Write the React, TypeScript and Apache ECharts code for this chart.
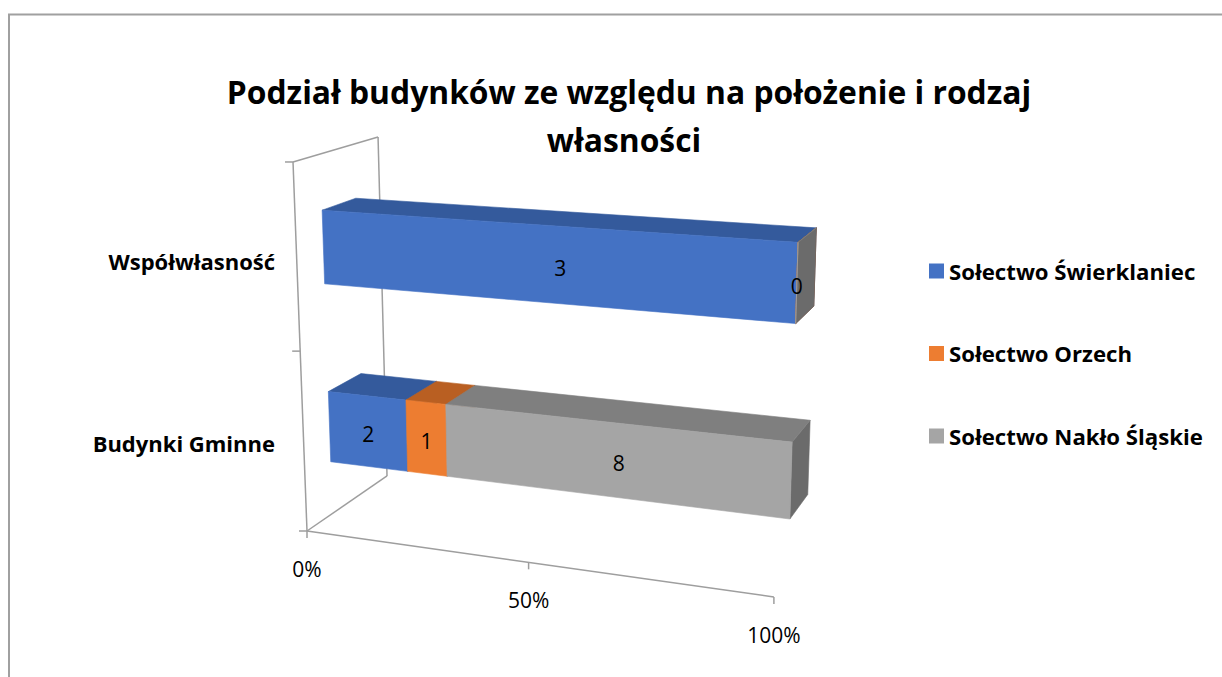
import React, { useEffect, useRef } from "react";
import * as echarts from "echarts";

// ---- data ----
const titleLines = ["Podział budynków ze względu na położenie i rodzaj", "własności"];
const categories = ["Budynki Gminne", "Współwłasność"];
const seriesNames = ["Sołectwo Świerklaniec", "Sołectwo Orzech", "Sołectwo Nakło Śląskie"];
const swierklaniec = [2, 3];
const orzech = [1, 0];
const naklo = [8, 0];
const tickValues = [0, 50, 100];
const tickLabels = ["0%", "50%", "100%"];

// ---- styles ----
const FONT = "Open Sans";
const frontColors = ["#4472C4", "#ED7D31", "#A5A5A5"];
const topColors = ["#345A9C", "#B95F22", "#7F7F7F"];
const sideColors = ["#2D5090", "#A55520", "#6B6B6B"];
const FRAME = "#9E9E9E";

// perspective camera (normalized 3D space -> screen)
const CAM = {
  ox: 307,
  oy: 531,
  ex: [421.8, 59.6],
  ey: [-13.3, -350.9],
  ez: [87.4, -60.1],
  w: [-0.0966, -0.0491, 0.0921],
};
function proj(X: number, Y: number, Z: number): number[] {
  const d = 1 + CAM.w[0] * X + CAM.w[1] * Y + CAM.w[2] * Z;
  return [
    CAM.ox + (CAM.ex[0] * X + CAM.ey[0] * Y + CAM.ez[0] * Z) / d,
    CAM.oy + (CAM.ex[1] * X + CAM.ey[1] * Y + CAM.ez[1] * Z) / d,
  ];
}
const Z_FRONT = 0.3;
const Z_BACK = 0.7;
const BAR_FRACTION = 0.4;

const seriesValues = [swierklaniec, orzech, naklo];

function buildStack() {
  const totals = categories.map((_, ci) => seriesValues.reduce((s, arr) => s + arr[ci], 0));
  const rows: number[][][] = seriesValues.map(() => []);
  categories.forEach((_, ci) => {
    let cum = 0;
    seriesValues.forEach((arr, si) => {
      const v = arr[ci];
      const start = (cum / totals[ci]) * 100;
      cum += v;
      const end = (cum / totals[ci]) * 100;
      rows[si].push([start, end, ci, v, 0]);
    });
    // hide labels of segments coinciding with a later one
    seriesValues.forEach((_, si) => {
      for (let sj = si + 1; sj < seriesValues.length; sj++) {
        const a = rows[si][ci];
        const b = rows[sj][ci];
        if (Math.abs(a[0] - b[0]) < 1e-9 && Math.abs(a[1] - b[1]) < 1e-9) a[4] = 1;
      }
    });
  });
  return rows;
}

export default function App() {
  const ref = useRef<HTMLDivElement>(null);
  useEffect(() => {
    if (!ref.current) return;
    const chart = echarts.init(ref.current, undefined, { renderer: "svg" });
    const rows = buildStack();

    const frameSeries: any = {
      type: "custom",
      name: "frame",
      silent: true,
      data: [[0, 0]],
      encode: { x: 0, y: 1 },
      renderItem: (params: any, api: any) => {
        const cs = params.coordSys;
        const nx = (v: number) => (api.coord([v, 0])[0] - cs.x) / cs.width;
        const c0 = api.coord([0, 0]);
        const band = api.size([0, 1])[1];
        const ny = (py: number) => 1 - (py - cs.y) / cs.height;
        const yBottom = ny(c0[1] + band / 2);
        const yTop = ny(c0[1] - band / 2 - band * (categories.length - 1));
        const children: any[] = [];
        const line = (p: number[], q: number[]) =>
          children.push({
            type: "line",
            shape: { x1: p[0], y1: p[1], x2: q[0], y2: q[1] },
            style: { stroke: FRAME, lineWidth: 1.5 },
          });
        const A = proj(0, yTop, 0);
        const B = proj(0, yBottom, 0);
        const C = proj(0, yTop, 1);
        const D = proj(0, yBottom, 1);
        const E = proj(nx(100), yBottom, 0);
        line(A, B);
        line(A, C);
        line(C, D);
        line(D, B);
        line(B, E);
        // category ticks
        for (let k = 0; k <= categories.length; k++) {
          const y = ny(c0[1] + band / 2 - band * k);
          const p = proj(0, y, 0);
          line([p[0] - 8, p[1]], p);
        }
        // value ticks + labels
        tickValues.forEach((v, i) => {
          const p = proj(nx(v), yBottom, 0);
          line(p, [p[0], p[1] + 7]);
          children.push({
            type: "text",
            style: {
              text: tickLabels[i],
              x: p[0],
              y: p[1] + 38,
              align: "center",
              verticalAlign: "middle",
              fontFamily: FONT,
              fontSize: 21,
              fill: "#000",
            },
          });
        });
        return { type: "group", children };
      },
      z: 1,
    };

    const barSeries: any[] = seriesNames.map((name, si) => ({
      type: "custom",
      name,
      itemStyle: { color: frontColors[si] },
      data: rows[si],
      encode: { x: [0, 1], y: 2 },
      z: 2,
      renderItem: (params: any, api: any) => {
        const cs = params.coordSys;
        const s = api.value(0);
        const e = api.value(1);
        const ci = api.value(2);
        const v = api.value(3);
        const hide = api.value(4);
        const a = api.coord([s, ci]);
        const b = api.coord([e, ci]);
        const X0 = (a[0] - cs.x) / cs.width;
        const X1 = (b[0] - cs.x) / cs.width;
        const Yc = 1 - (a[1] - cs.y) / cs.height;
        const half = (BAR_FRACTION / 2) * (api.size([0, 1])[1] / cs.height);
        const Yb = Yc - half;
        const Yt = Yc + half;
        const f1 = proj(X0, Yb, Z_FRONT);
        const f2 = proj(X1, Yb, Z_FRONT);
        const f3 = proj(X1, Yt, Z_FRONT);
        const f4 = proj(X0, Yt, Z_FRONT);
        const t3 = proj(X1, Yt, Z_BACK);
        const t4 = proj(X0, Yt, Z_BACK);
        const r2 = proj(X1, Yb, Z_BACK);
        const poly = (pts: number[][], fill: string) => ({
          type: "polygon",
          shape: { points: pts },
          style: { fill, stroke: fill, lineWidth: 0.6 },
        });
        const children: any[] = [
          poly([f2, r2, t3, f3], sideColors[si]),
          poly([f4, f3, t3, t4], topColors[si]),
          poly([f1, f2, f3, f4], frontColors[si]),
        ];
        if (!hide) {
          const cx = (f1[0] + f2[0] + f3[0] + f4[0]) / 4;
          const cy = (f1[1] + f2[1] + f3[1] + f4[1]) / 4;
          children.push({
            type: "text",
            z2: 10,
            style: {
              text: String(v),
              x: cx,
              y: cy + 3,
              align: "center",
              verticalAlign: "middle",
              fontFamily: FONT,
              fontSize: 21,
              fill: "#000",
            },
          });
        }
        return { type: "group", children };
      },
    }));

    chart.setOption({
      animation: false,
      textStyle: { fontFamily: FONT },
      grid: { left: 284, top: 170, width: 466, height: 364 },
      xAxis: { type: "value", min: 0, max: 100, show: false },
      yAxis: {
        type: "category",
        data: categories,
        axisLine: { show: false },
        axisTick: { show: false },
        splitLine: { show: false },
        axisLabel: {
          margin: 9,
          fontFamily: FONT,
          fontWeight: "bold",
          fontSize: 22,
          color: "#000",
        },
      },
      legend: {
        data: seriesNames,
        orient: "vertical",
        left: 929,
        top: 260,
        padding: 0,
        itemWidth: 15,
        itemHeight: 15,
        itemGap: 60.5,
        icon: "rect",
        selectedMode: false,
        textStyle: {
          fontFamily: FONT,
          fontWeight: "bold",
          fontSize: 22.2,
          lineHeight: 22,
          color: "#000",
        },
      },
      graphic: [
        {
          type: "rect",
          shape: { x: 9, y: 14.5, width: 1400, height: 800 },
          style: { fill: "none", stroke: "#A0A0A0", lineWidth: 2 },
          silent: true,
        },
        {
          type: "text",
          x: 629,
          y: 91,
          style: {
            text: titleLines[0],
            align: "center",
            verticalAlign: "middle",
            fontFamily: FONT,
            fontWeight: "bold",
            fontSize: 31.8,
            fill: "#000",
          },
        },
        {
          type: "text",
          x: 624,
          y: 139,
          style: {
            text: titleLines[1],
            align: "center",
            verticalAlign: "middle",
            fontFamily: FONT,
            fontWeight: "bold",
            fontSize: 31.8,
            fill: "#000",
          },
        },
      ],
      series: [frameSeries, ...barSeries],
    });
    return () => chart.dispose();
  }, []);
  return (
    <div
      ref={ref}
      style={{ position: "fixed", left: 0, top: 0, width: 1222, height: 677, background: "#fff" }}
    />
  );
}
